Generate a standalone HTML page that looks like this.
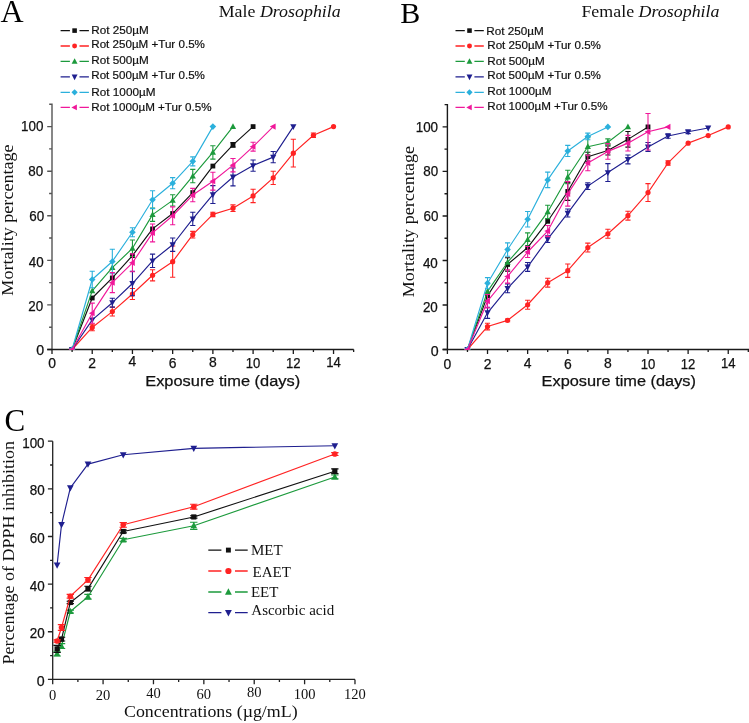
<!DOCTYPE html>
<html><head><meta charset="utf-8"><title>Figure</title>
<style>html,body{margin:0;padding:0;background:#fff;}svg{display:block;will-change:transform;}text{white-space:pre;}</style>
</head><body>
<svg width="749" height="723" viewBox="0 0 749 723">
<rect width="749" height="723" fill="#fff"/>
<path d="M52.00 349.5V104.31h-2.8M52.00 349.50h-4.8M52.00 327.21h-2.9M52.00 304.92h-4.8M52.00 282.63h-2.9M52.00 260.34h-4.8M52.00 238.05h-2.9M52.00 215.76h-4.8M52.00 193.47h-2.9M52.00 171.18h-4.8M52.00 148.89h-2.9M52.00 126.60h-4.8" fill="none" stroke="#555" stroke-width="1.4"/>
<path d="M47.20 349.5H353.70M52.00 349.5v4.4M72.11 349.5v2.6M92.22 349.5v4.4M112.33 349.5v2.6M132.44 349.5v4.4M152.55 349.5v2.6M172.66 349.5v4.4M192.77 349.5v2.6M212.88 349.5v4.4M232.99 349.5v2.6M253.10 349.5v4.4M273.21 349.5v2.6M293.32 349.5v4.4M313.43 349.5v2.6M333.54 349.5v4.4M353.65 349.5v2.6" fill="none" stroke="#1a1a1a" stroke-width="1.3"/>
<text x="44.20" y="355.45" font-family="'Liberation Sans', sans-serif" font-size="14.2" text-anchor="end" fill="#111" stroke="#111" stroke-width="0.25">0</text>
<text x="43.20" y="310.85" font-family="'Liberation Sans', sans-serif" font-size="14.2" text-anchor="end" fill="#111" textLength="14.9" lengthAdjust="spacingAndGlyphs" stroke="#111" stroke-width="0.25">20</text>
<text x="43.60" y="267.15" font-family="'Liberation Sans', sans-serif" font-size="14.2" text-anchor="end" fill="#111" textLength="14.9" lengthAdjust="spacingAndGlyphs" stroke="#111" stroke-width="0.25">40</text>
<text x="44.20" y="221.10" font-family="'Liberation Sans', sans-serif" font-size="14.2" text-anchor="end" fill="#111" textLength="14.9" lengthAdjust="spacingAndGlyphs" stroke="#111" stroke-width="0.25">60</text>
<text x="43.20" y="176.45" font-family="'Liberation Sans', sans-serif" font-size="14.2" text-anchor="end" fill="#111" textLength="14.9" lengthAdjust="spacingAndGlyphs" stroke="#111" stroke-width="0.25">80</text>
<text x="43.40" y="131.35" font-family="'Liberation Sans', sans-serif" font-size="14.2" text-anchor="end" fill="#111" textLength="22.4" lengthAdjust="spacingAndGlyphs" stroke="#111" stroke-width="0.25">100</text>
<text x="52.00" y="367.90" font-family="'Liberation Sans', sans-serif" font-size="13.9" text-anchor="middle" fill="#111" stroke="#111" stroke-width="0.25">0</text>
<text x="92.22" y="367.90" font-family="'Liberation Sans', sans-serif" font-size="13.9" text-anchor="middle" fill="#111" stroke="#111" stroke-width="0.25">2</text>
<text x="132.44" y="366.40" font-family="'Liberation Sans', sans-serif" font-size="13.9" text-anchor="middle" fill="#111" stroke="#111" stroke-width="0.25">4</text>
<text x="172.66" y="368.00" font-family="'Liberation Sans', sans-serif" font-size="13.9" text-anchor="middle" fill="#111" stroke="#111" stroke-width="0.25">6</text>
<text x="212.88" y="366.50" font-family="'Liberation Sans', sans-serif" font-size="13.9" text-anchor="middle" fill="#111" stroke="#111" stroke-width="0.25">8</text>
<text x="253.10" y="368.20" font-family="'Liberation Sans', sans-serif" font-size="13.9" text-anchor="middle" fill="#111" textLength="14.6" lengthAdjust="spacingAndGlyphs" stroke="#111" stroke-width="0.25">10</text>
<text x="293.32" y="368.20" font-family="'Liberation Sans', sans-serif" font-size="13.9" text-anchor="middle" fill="#111" textLength="14.6" lengthAdjust="spacingAndGlyphs" stroke="#111" stroke-width="0.25">12</text>
<text x="333.54" y="366.50" font-family="'Liberation Sans', sans-serif" font-size="13.9" text-anchor="middle" fill="#111" textLength="14.6" lengthAdjust="spacingAndGlyphs" stroke="#111" stroke-width="0.25">14</text>
<clipPath id="clipA"><rect x="52.00" y="90" width="306.70" height="259.90"/></clipPath>
<g clip-path="url(#clipA)">
<path d="M72.11 349.50L92.22 298.01L112.33 277.95L132.44 255.66L152.55 228.91L172.66 213.53L192.77 192.58L212.88 166.05L232.99 144.88L253.10 126.60" fill="none" stroke="#111111" stroke-width="1.15" stroke-linejoin="round"/>
<path d="M232.99 142.65V147.11M230.39 142.65H235.59M230.39 147.11H235.59" fill="none" stroke="#111111" stroke-width="1.1"/>
<rect x="69.71" y="347.10" width="4.80" height="4.80" fill="#111111"/>
<rect x="89.82" y="295.61" width="4.80" height="4.80" fill="#111111"/>
<rect x="109.93" y="275.55" width="4.80" height="4.80" fill="#111111"/>
<rect x="130.04" y="253.26" width="4.80" height="4.80" fill="#111111"/>
<rect x="150.15" y="226.51" width="4.80" height="4.80" fill="#111111"/>
<rect x="170.26" y="211.13" width="4.80" height="4.80" fill="#111111"/>
<rect x="190.37" y="190.18" width="4.80" height="4.80" fill="#111111"/>
<rect x="210.48" y="163.65" width="4.80" height="4.80" fill="#111111"/>
<rect x="230.59" y="142.48" width="4.80" height="4.80" fill="#111111"/>
<rect x="250.70" y="124.20" width="4.80" height="4.80" fill="#111111"/>
<path d="M72.11 349.50L92.22 327.43L112.33 311.61L132.44 294.00L152.55 275.27L172.66 261.68L192.77 234.71L212.88 214.42L232.99 208.18L253.10 195.92L273.21 177.87L293.32 153.13L313.43 135.29L333.54 126.60" fill="none" stroke="#ff2323" stroke-width="1.15" stroke-linejoin="round"/>
<path d="M92.22 324.09V330.78M89.62 324.09H94.82M89.62 330.78H94.82M112.33 307.15V316.06M109.73 307.15H114.93M109.73 316.06H114.93M132.44 288.43V299.57M129.84 288.43H135.04M129.84 299.57H135.04M152.55 269.70V280.85M149.95 269.70H155.15M149.95 280.85H155.15M172.66 246.07V277.28M170.06 246.07H175.26M170.06 277.28H175.26M192.77 231.36V238.05M190.17 231.36H195.37M190.17 238.05H195.37M212.88 212.19V216.65M210.28 212.19H215.48M210.28 216.65H215.48M232.99 204.84V211.52M230.39 204.84H235.59M230.39 211.52H235.59M253.10 189.23V202.61M250.50 189.23H255.70M250.50 202.61H255.70M273.21 171.18V184.55M270.61 171.18H275.81M270.61 184.55H275.81M293.32 139.31V166.94M290.72 139.31H295.92M290.72 166.94H295.92M313.43 133.06V137.52M310.83 133.06H316.03M310.83 137.52H316.03" fill="none" stroke="#ff2323" stroke-width="1.1"/>
<circle cx="72.11" cy="349.50" r="2.60" fill="#ff2323"/>
<circle cx="92.22" cy="327.43" r="2.60" fill="#ff2323"/>
<circle cx="112.33" cy="311.61" r="2.60" fill="#ff2323"/>
<circle cx="132.44" cy="294.00" r="2.60" fill="#ff2323"/>
<circle cx="152.55" cy="275.27" r="2.60" fill="#ff2323"/>
<circle cx="172.66" cy="261.68" r="2.60" fill="#ff2323"/>
<circle cx="192.77" cy="234.71" r="2.60" fill="#ff2323"/>
<circle cx="212.88" cy="214.42" r="2.60" fill="#ff2323"/>
<circle cx="232.99" cy="208.18" r="2.60" fill="#ff2323"/>
<circle cx="253.10" cy="195.92" r="2.60" fill="#ff2323"/>
<circle cx="273.21" cy="177.87" r="2.60" fill="#ff2323"/>
<circle cx="293.32" cy="153.13" r="2.60" fill="#ff2323"/>
<circle cx="313.43" cy="135.29" r="2.60" fill="#ff2323"/>
<circle cx="333.54" cy="126.60" r="2.60" fill="#ff2323"/>
<path d="M72.11 349.50L92.22 290.88L112.33 267.70L132.44 248.30L152.55 214.65L172.66 200.38L192.77 176.08L212.88 152.46L232.99 126.60" fill="none" stroke="#1c9a3c" stroke-width="1.15" stroke-linejoin="round"/>
<path d="M132.44 240.06V256.55M129.84 240.06H135.04M129.84 256.55H135.04M152.55 207.96V221.33M149.95 207.96H155.15M149.95 221.33H155.15M172.66 194.81V205.95M170.06 194.81H175.26M170.06 205.95H175.26M192.77 169.40V182.77M190.17 169.40H195.37M190.17 182.77H195.37M212.88 145.77V159.14M210.28 145.77H215.48M210.28 159.14H215.48" fill="none" stroke="#1c9a3c" stroke-width="1.1"/>
<path d="M69.01 351.90L75.21 351.90L72.11 346.10Z" fill="#1c9a3c"/>
<path d="M89.12 293.28L95.32 293.28L92.22 287.48Z" fill="#1c9a3c"/>
<path d="M109.23 270.10L115.43 270.10L112.33 264.30Z" fill="#1c9a3c"/>
<path d="M129.34 250.70L135.54 250.70L132.44 244.90Z" fill="#1c9a3c"/>
<path d="M149.45 217.05L155.65 217.05L152.55 211.25Z" fill="#1c9a3c"/>
<path d="M169.56 202.78L175.76 202.78L172.66 196.98Z" fill="#1c9a3c"/>
<path d="M189.67 178.48L195.87 178.48L192.77 172.68Z" fill="#1c9a3c"/>
<path d="M209.78 154.86L215.98 154.86L212.88 149.06Z" fill="#1c9a3c"/>
<path d="M229.89 129.00L236.09 129.00L232.99 123.20Z" fill="#1c9a3c"/>
<path d="M72.11 349.50L92.22 319.85L112.33 302.69L132.44 283.52L152.55 260.79L172.66 244.74L192.77 218.88L212.88 194.58L232.99 176.98L253.10 165.61L273.21 157.14L293.32 126.60" fill="none" stroke="#1f1f8f" stroke-width="1.15" stroke-linejoin="round"/>
<path d="M112.33 298.23V307.15M109.73 298.23H114.93M109.73 307.15H114.93M132.44 271.26V295.78M129.84 271.26H135.04M129.84 295.78H135.04M152.55 254.10V267.47M149.95 254.10H155.15M149.95 267.47H155.15M172.66 238.05V251.42M170.06 238.05H175.26M170.06 251.42H175.26M192.77 212.19V225.57M190.17 212.19H195.37M190.17 225.57H195.37M212.88 185.67V203.50M210.28 185.67H215.48M210.28 203.50H215.48M232.99 168.06V185.89M230.39 168.06H235.59M230.39 185.89H235.59M253.10 160.03V171.18M250.50 160.03H255.70M250.50 171.18H255.70M273.21 151.56V162.71M270.61 151.56H275.81M270.61 162.71H275.81" fill="none" stroke="#1f1f8f" stroke-width="1.1"/>
<path d="M69.01 347.10L75.21 347.10L72.11 352.90Z" fill="#1f1f8f"/>
<path d="M89.12 317.45L95.32 317.45L92.22 323.25Z" fill="#1f1f8f"/>
<path d="M109.23 300.29L115.43 300.29L112.33 306.09Z" fill="#1f1f8f"/>
<path d="M129.34 281.12L135.54 281.12L132.44 286.92Z" fill="#1f1f8f"/>
<path d="M149.45 258.39L155.65 258.39L152.55 264.19Z" fill="#1f1f8f"/>
<path d="M169.56 242.34L175.76 242.34L172.66 248.14Z" fill="#1f1f8f"/>
<path d="M189.67 216.48L195.87 216.48L192.77 222.28Z" fill="#1f1f8f"/>
<path d="M209.78 192.18L215.98 192.18L212.88 197.98Z" fill="#1f1f8f"/>
<path d="M229.89 174.58L236.09 174.58L232.99 180.38Z" fill="#1f1f8f"/>
<path d="M250.00 163.21L256.20 163.21L253.10 169.01Z" fill="#1f1f8f"/>
<path d="M270.11 154.74L276.31 154.74L273.21 160.54Z" fill="#1f1f8f"/>
<path d="M290.22 124.20L296.42 124.20L293.32 130.00Z" fill="#1f1f8f"/>
<path d="M72.11 349.50L92.22 279.51L112.33 261.45L132.44 232.25L152.55 199.71L172.66 183.22L192.77 161.37L212.88 126.60" fill="none" stroke="#2bb0dc" stroke-width="1.15" stroke-linejoin="round"/>
<path d="M92.22 271.26V287.76M89.62 271.26H94.82M89.62 287.76H94.82M112.33 249.19V273.71M109.73 249.19H114.93M109.73 273.71H114.93M132.44 227.80V236.71M129.84 227.80H135.04M129.84 236.71H135.04M152.55 190.80V208.63M149.95 190.80H155.15M149.95 208.63H155.15M172.66 177.64V188.79M170.06 177.64H175.26M170.06 188.79H175.26M192.77 156.91V165.83M190.17 156.91H195.37M190.17 165.83H195.37" fill="none" stroke="#2bb0dc" stroke-width="1.1"/>
<path d="M68.81 349.50L72.11 346.20L75.41 349.50L72.11 352.80Z" fill="#2bb0dc"/>
<path d="M88.92 279.51L92.22 276.21L95.52 279.51L92.22 282.81Z" fill="#2bb0dc"/>
<path d="M109.03 261.45L112.33 258.15L115.63 261.45L112.33 264.75Z" fill="#2bb0dc"/>
<path d="M129.14 232.25L132.44 228.95L135.74 232.25L132.44 235.55Z" fill="#2bb0dc"/>
<path d="M149.25 199.71L152.55 196.41L155.85 199.71L152.55 203.01Z" fill="#2bb0dc"/>
<path d="M169.36 183.22L172.66 179.92L175.96 183.22L172.66 186.52Z" fill="#2bb0dc"/>
<path d="M189.47 161.37L192.77 158.07L196.07 161.37L192.77 164.67Z" fill="#2bb0dc"/>
<path d="M209.58 126.60L212.88 123.30L216.18 126.60L212.88 129.90Z" fill="#2bb0dc"/>
<path d="M72.11 349.50L92.22 313.17L112.33 282.63L132.44 262.79L152.55 232.92L172.66 215.76L192.77 195.03L212.88 181.21L232.99 165.16L253.10 146.66L273.21 126.60" fill="none" stroke="#f0189a" stroke-width="1.15" stroke-linejoin="round"/>
<path d="M92.22 303.14V323.20M89.62 303.14H94.82M89.62 323.20H94.82M112.33 272.60V292.66M109.73 272.60H114.93M109.73 292.66H114.93M132.44 253.88V271.71M129.84 253.88H135.04M129.84 271.71H135.04M152.55 224.01V241.84M149.95 224.01H155.15M149.95 241.84H155.15M172.66 206.84V224.68M170.06 206.84H175.26M170.06 224.68H175.26M192.77 188.34V201.72M190.17 188.34H195.37M190.17 201.72H195.37M212.88 172.29V190.13M210.28 172.29H215.48M210.28 190.13H215.48M232.99 158.47V171.85M230.39 158.47H235.59M230.39 171.85H235.59M253.10 142.20V151.12M250.50 142.20H255.70M250.50 151.12H255.70" fill="none" stroke="#f0189a" stroke-width="1.1"/>
<path d="M74.51 346.40L74.51 352.60L68.71 349.50Z" fill="#f0189a"/>
<path d="M94.62 310.07L94.62 316.27L88.82 313.17Z" fill="#f0189a"/>
<path d="M114.73 279.53L114.73 285.73L108.93 282.63Z" fill="#f0189a"/>
<path d="M134.84 259.69L134.84 265.89L129.04 262.79Z" fill="#f0189a"/>
<path d="M154.95 229.82L154.95 236.02L149.15 232.92Z" fill="#f0189a"/>
<path d="M175.06 212.66L175.06 218.86L169.26 215.76Z" fill="#f0189a"/>
<path d="M195.17 191.93L195.17 198.13L189.37 195.03Z" fill="#f0189a"/>
<path d="M215.28 178.11L215.28 184.31L209.48 181.21Z" fill="#f0189a"/>
<path d="M235.39 162.06L235.39 168.26L229.59 165.16Z" fill="#f0189a"/>
<path d="M255.50 143.56L255.50 149.76L249.70 146.66Z" fill="#f0189a"/>
<path d="M275.61 123.50L275.61 129.70L269.81 126.60Z" fill="#f0189a"/>
</g>
<text x="0.60" y="21.50" font-family="'Liberation Serif', serif" font-size="32" text-anchor="start" fill="#000">A</text>
<text x="218.70" y="16.70" font-family="'Liberation Serif', serif" font-size="16.3" fill="#111" textLength="122.0" lengthAdjust="spacingAndGlyphs">Male <tspan font-style="italic">Drosophila</tspan></text>
<path d="M60.60 30.6h9.3M79.50 30.6h9.4" stroke="#111111" stroke-width="1.3" fill="none"/>
<rect x="72.32" y="28.32" width="4.56" height="4.56" fill="#111111"/>
<text x="91.30" y="33.60" font-family="'Liberation Sans', sans-serif" font-size="11.0" text-anchor="start" fill="#111" textLength="57.5" lengthAdjust="spacingAndGlyphs" stroke="#111" stroke-width="0.2">Rot 250µM</text>
<path d="M60.60 46.0h9.3M79.50 46.0h9.4" stroke="#ff2323" stroke-width="1.3" fill="none"/>
<circle cx="74.60" cy="46.00" r="2.47" fill="#ff2323"/>
<text x="91.30" y="47.70" font-family="'Liberation Sans', sans-serif" font-size="11.0" text-anchor="start" fill="#111" textLength="113.6" lengthAdjust="spacingAndGlyphs" stroke="#111" stroke-width="0.2">Rot 250µM +Tur 0.5%</text>
<path d="M60.60 61.4h9.3M79.50 61.4h9.4" stroke="#1c9a3c" stroke-width="1.3" fill="none"/>
<path d="M71.66 63.68L77.54 63.68L74.60 58.17Z" fill="#1c9a3c"/>
<text x="91.30" y="64.30" font-family="'Liberation Sans', sans-serif" font-size="11.0" text-anchor="start" fill="#111" textLength="57.5" lengthAdjust="spacingAndGlyphs" stroke="#111" stroke-width="0.2">Rot 500µM</text>
<path d="M60.60 76.9h9.3M79.50 76.9h9.4" stroke="#1f1f8f" stroke-width="1.3" fill="none"/>
<path d="M71.66 74.62L77.54 74.62L74.60 80.13Z" fill="#1f1f8f"/>
<text x="91.30" y="79.40" font-family="'Liberation Sans', sans-serif" font-size="11.0" text-anchor="start" fill="#111" textLength="113.6" lengthAdjust="spacingAndGlyphs" stroke="#111" stroke-width="0.2">Rot 500µM +Tur 0.5%</text>
<path d="M60.60 92.3h9.3M79.50 92.3h9.4" stroke="#2bb0dc" stroke-width="1.3" fill="none"/>
<path d="M71.46 92.30L74.60 89.16L77.73 92.30L74.60 95.44Z" fill="#2bb0dc"/>
<text x="91.30" y="96.30" font-family="'Liberation Sans', sans-serif" font-size="11.0" text-anchor="start" fill="#111" textLength="64.2" lengthAdjust="spacingAndGlyphs" stroke="#111" stroke-width="0.2">Rot 1000µM</text>
<path d="M60.60 107.4h9.3M79.50 107.4h9.4" stroke="#f0189a" stroke-width="1.3" fill="none"/>
<path d="M76.88 104.46L76.88 110.34L71.37 107.40Z" fill="#f0189a"/>
<text x="91.30" y="111.00" font-family="'Liberation Sans', sans-serif" font-size="11.0" text-anchor="start" fill="#111" textLength="120.3" lengthAdjust="spacingAndGlyphs" stroke="#111" stroke-width="0.2">Rot 1000µM +Tur 0.5%</text>
<text transform="translate(13.00 220.00) rotate(-90)" font-family="'Liberation Serif', serif" font-size="16.3" text-anchor="middle" fill="#111" textLength="151.3" lengthAdjust="spacingAndGlyphs">Mortality percentage</text>
<text x="145.20" y="385.60" font-family="'Liberation Sans', sans-serif" font-size="15.4" text-anchor="start" fill="#111" textLength="155.0" lengthAdjust="spacingAndGlyphs" stroke="#111" stroke-width="0.25">Exposure time (days)</text>
<path d="M447.40 349.5V104.64h-2.8M447.40 349.50h-4.8M447.40 327.24h-2.9M447.40 304.98h-4.8M447.40 282.72h-2.9M447.40 260.46h-4.8M447.40 238.20h-2.9M447.40 215.94h-4.8M447.40 193.68h-2.9M447.40 171.42h-4.8M447.40 149.16h-2.9M447.40 126.90h-4.8" fill="none" stroke="#1a1a1a" stroke-width="1.4"/>
<path d="M442.60 349.5H749.00M447.40 349.5v4.4M467.46 349.5v2.6M487.52 349.5v4.4M507.58 349.5v2.6M527.64 349.5v4.4M547.70 349.5v2.6M567.76 349.5v4.4M587.82 349.5v2.6M607.88 349.5v4.4M627.94 349.5v2.6M648.00 349.5v4.4M668.06 349.5v2.6M688.12 349.5v4.4M708.18 349.5v2.6M728.24 349.5v4.4M748.30 349.5v2.6" fill="none" stroke="#1a1a1a" stroke-width="1.3"/>
<text x="438.70" y="355.65" font-family="'Liberation Sans', sans-serif" font-size="14.2" text-anchor="end" fill="#111" stroke="#111" stroke-width="0.25">0</text>
<text x="437.80" y="311.65" font-family="'Liberation Sans', sans-serif" font-size="14.2" text-anchor="end" fill="#111" textLength="14.9" lengthAdjust="spacingAndGlyphs" stroke="#111" stroke-width="0.25">20</text>
<text x="437.80" y="267.65" font-family="'Liberation Sans', sans-serif" font-size="14.2" text-anchor="end" fill="#111" textLength="14.9" lengthAdjust="spacingAndGlyphs" stroke="#111" stroke-width="0.25">40</text>
<text x="438.40" y="221.35" font-family="'Liberation Sans', sans-serif" font-size="14.2" text-anchor="end" fill="#111" textLength="14.9" lengthAdjust="spacingAndGlyphs" stroke="#111" stroke-width="0.25">60</text>
<text x="438.10" y="176.45" font-family="'Liberation Sans', sans-serif" font-size="14.2" text-anchor="end" fill="#111" textLength="14.9" lengthAdjust="spacingAndGlyphs" stroke="#111" stroke-width="0.25">80</text>
<text x="438.10" y="131.95" font-family="'Liberation Sans', sans-serif" font-size="14.2" text-anchor="end" fill="#111" textLength="22.4" lengthAdjust="spacingAndGlyphs" stroke="#111" stroke-width="0.25">100</text>
<text x="447.40" y="369.10" font-family="'Liberation Sans', sans-serif" font-size="13.9" text-anchor="middle" fill="#111" stroke="#111" stroke-width="0.25">0</text>
<text x="487.52" y="369.10" font-family="'Liberation Sans', sans-serif" font-size="13.9" text-anchor="middle" fill="#111" stroke="#111" stroke-width="0.25">2</text>
<text x="527.64" y="367.60" font-family="'Liberation Sans', sans-serif" font-size="13.9" text-anchor="middle" fill="#111" stroke="#111" stroke-width="0.25">4</text>
<text x="567.76" y="369.20" font-family="'Liberation Sans', sans-serif" font-size="13.9" text-anchor="middle" fill="#111" stroke="#111" stroke-width="0.25">6</text>
<text x="607.88" y="367.70" font-family="'Liberation Sans', sans-serif" font-size="13.9" text-anchor="middle" fill="#111" stroke="#111" stroke-width="0.25">8</text>
<text x="648.00" y="369.40" font-family="'Liberation Sans', sans-serif" font-size="13.9" text-anchor="middle" fill="#111" textLength="14.6" lengthAdjust="spacingAndGlyphs" stroke="#111" stroke-width="0.25">10</text>
<text x="688.12" y="369.40" font-family="'Liberation Sans', sans-serif" font-size="13.9" text-anchor="middle" fill="#111" textLength="14.6" lengthAdjust="spacingAndGlyphs" stroke="#111" stroke-width="0.25">12</text>
<text x="728.24" y="367.70" font-family="'Liberation Sans', sans-serif" font-size="13.9" text-anchor="middle" fill="#111" textLength="14.6" lengthAdjust="spacingAndGlyphs" stroke="#111" stroke-width="0.25">14</text>
<clipPath id="clipB"><rect x="447.40" y="90" width="306.60" height="259.90"/></clipPath>
<g clip-path="url(#clipB)">
<path d="M467.46 349.50L487.52 295.85L507.58 264.47L527.64 247.55L547.70 221.28L567.76 191.45L587.82 156.73L607.88 150.50L627.94 139.37L648.00 126.90" fill="none" stroke="#111111" stroke-width="1.15" stroke-linejoin="round"/>
<path d="M507.58 257.79V271.14M504.98 257.79H510.18M504.98 271.14H510.18M567.76 182.55V200.36M565.16 182.55H570.36M565.16 200.36H570.36M587.82 152.28V161.18M585.22 152.28H590.42M585.22 161.18H590.42M607.88 146.04V154.95M605.28 146.04H610.48M605.28 154.95H610.48M627.94 131.57V147.16M625.34 131.57H630.54M625.34 147.16H630.54" fill="none" stroke="#111111" stroke-width="1.1"/>
<rect x="465.06" y="347.10" width="4.80" height="4.80" fill="#111111"/>
<rect x="485.12" y="293.45" width="4.80" height="4.80" fill="#111111"/>
<rect x="505.18" y="262.07" width="4.80" height="4.80" fill="#111111"/>
<rect x="525.24" y="245.15" width="4.80" height="4.80" fill="#111111"/>
<rect x="545.30" y="218.88" width="4.80" height="4.80" fill="#111111"/>
<rect x="565.36" y="189.05" width="4.80" height="4.80" fill="#111111"/>
<rect x="585.42" y="154.33" width="4.80" height="4.80" fill="#111111"/>
<rect x="605.48" y="148.10" width="4.80" height="4.80" fill="#111111"/>
<rect x="625.54" y="136.97" width="4.80" height="4.80" fill="#111111"/>
<rect x="645.60" y="124.50" width="4.80" height="4.80" fill="#111111"/>
<path d="M467.46 349.50L487.52 326.57L507.58 320.34L527.64 304.76L547.70 282.72L567.76 270.70L587.82 247.55L607.88 233.75L627.94 215.72L648.00 192.57L668.06 162.96L688.12 143.15L708.18 135.58L728.24 126.90" fill="none" stroke="#ff2323" stroke-width="1.15" stroke-linejoin="round"/>
<path d="M487.52 323.23V329.91M484.92 323.23H490.12M484.92 329.91H490.12M507.58 319.00V321.68M504.98 319.00H510.18M504.98 321.68H510.18M527.64 300.31V309.21M525.04 300.31H530.24M525.04 309.21H530.24M547.70 278.27V287.17M545.10 278.27H550.30M545.10 287.17H550.30M567.76 264.02V277.38M565.16 264.02H570.36M565.16 277.38H570.36M587.82 243.10V252.00M585.22 243.10H590.42M585.22 252.00H590.42M607.88 229.30V238.20M605.28 229.30H610.48M605.28 238.20H610.48M627.94 211.27V220.17M625.34 211.27H630.54M625.34 220.17H630.54M648.00 183.66V201.47M645.40 183.66H650.60M645.40 201.47H650.60M668.06 160.74V165.19M665.46 160.74H670.66M665.46 165.19H670.66" fill="none" stroke="#ff2323" stroke-width="1.1"/>
<circle cx="467.46" cy="349.50" r="2.60" fill="#ff2323"/>
<circle cx="487.52" cy="326.57" r="2.60" fill="#ff2323"/>
<circle cx="507.58" cy="320.34" r="2.60" fill="#ff2323"/>
<circle cx="527.64" cy="304.76" r="2.60" fill="#ff2323"/>
<circle cx="547.70" cy="282.72" r="2.60" fill="#ff2323"/>
<circle cx="567.76" cy="270.70" r="2.60" fill="#ff2323"/>
<circle cx="587.82" cy="247.55" r="2.60" fill="#ff2323"/>
<circle cx="607.88" cy="233.75" r="2.60" fill="#ff2323"/>
<circle cx="627.94" cy="215.72" r="2.60" fill="#ff2323"/>
<circle cx="648.00" cy="192.57" r="2.60" fill="#ff2323"/>
<circle cx="668.06" cy="162.96" r="2.60" fill="#ff2323"/>
<circle cx="688.12" cy="143.15" r="2.60" fill="#ff2323"/>
<circle cx="708.18" cy="135.58" r="2.60" fill="#ff2323"/>
<circle cx="728.24" cy="126.90" r="2.60" fill="#ff2323"/>
<path d="M467.46 349.50L487.52 291.40L507.58 262.24L527.64 239.54L547.70 211.93L567.76 176.99L587.82 146.71L607.88 142.26L627.94 126.90" fill="none" stroke="#1c9a3c" stroke-width="1.15" stroke-linejoin="round"/>
<path d="M527.64 232.86V246.21M525.04 232.86H530.24M525.04 246.21H530.24M547.70 205.26V218.61M545.10 205.26H550.30M545.10 218.61H550.30M567.76 170.31V183.66M565.16 170.31H570.36M565.16 183.66H570.36M587.82 137.81V155.62M585.22 137.81H590.42M585.22 155.62H590.42M607.88 138.92V145.60M605.28 138.92H610.48M605.28 145.60H610.48" fill="none" stroke="#1c9a3c" stroke-width="1.1"/>
<path d="M464.36 351.90L470.56 351.90L467.46 346.10Z" fill="#1c9a3c"/>
<path d="M484.42 293.80L490.62 293.80L487.52 288.00Z" fill="#1c9a3c"/>
<path d="M504.48 264.64L510.68 264.64L507.58 258.84Z" fill="#1c9a3c"/>
<path d="M524.54 241.94L530.74 241.94L527.64 236.14Z" fill="#1c9a3c"/>
<path d="M544.60 214.33L550.80 214.33L547.70 208.53Z" fill="#1c9a3c"/>
<path d="M564.66 179.39L570.86 179.39L567.76 173.59Z" fill="#1c9a3c"/>
<path d="M584.72 149.11L590.92 149.11L587.82 143.31Z" fill="#1c9a3c"/>
<path d="M604.78 144.66L610.98 144.66L607.88 138.86Z" fill="#1c9a3c"/>
<path d="M624.84 129.30L631.04 129.30L627.94 123.50Z" fill="#1c9a3c"/>
<path d="M467.46 349.50L487.52 312.77L507.58 288.29L527.64 266.92L547.70 239.09L567.76 213.05L587.82 186.11L607.88 172.53L627.94 159.40L648.00 146.93L668.06 136.03L688.12 131.80L708.18 128.01" fill="none" stroke="#1f1f8f" stroke-width="1.15" stroke-linejoin="round"/>
<path d="M487.52 307.21V318.34M484.92 307.21H490.12M484.92 318.34H490.12M507.58 283.83V292.74M504.98 283.83H510.18M504.98 292.74H510.18M527.64 262.46V271.37M525.04 262.46H530.24M525.04 271.37H530.24M547.70 235.75V242.43M545.10 235.75H550.30M545.10 242.43H550.30M567.76 209.04V217.05M565.16 209.04H570.36M565.16 217.05H570.36M587.82 182.77V189.45M585.22 182.77H590.42M585.22 189.45H590.42M607.88 163.63V181.44M605.28 163.63H610.48M605.28 181.44H610.48M627.94 154.95V163.85M625.34 154.95H630.54M625.34 163.85H630.54M648.00 142.48V151.39M645.40 142.48H650.60M645.40 151.39H650.60M668.06 133.80V138.25M665.46 133.80H670.66M665.46 138.25H670.66M688.12 130.02V133.58M685.52 130.02H690.72M685.52 133.58H690.72" fill="none" stroke="#1f1f8f" stroke-width="1.1"/>
<path d="M464.36 347.10L470.56 347.10L467.46 352.90Z" fill="#1f1f8f"/>
<path d="M484.42 310.37L490.62 310.37L487.52 316.17Z" fill="#1f1f8f"/>
<path d="M504.48 285.89L510.68 285.89L507.58 291.69Z" fill="#1f1f8f"/>
<path d="M524.54 264.52L530.74 264.52L527.64 270.32Z" fill="#1f1f8f"/>
<path d="M544.60 236.69L550.80 236.69L547.70 242.49Z" fill="#1f1f8f"/>
<path d="M564.66 210.65L570.86 210.65L567.76 216.45Z" fill="#1f1f8f"/>
<path d="M584.72 183.71L590.92 183.71L587.82 189.51Z" fill="#1f1f8f"/>
<path d="M604.78 170.13L610.98 170.13L607.88 175.93Z" fill="#1f1f8f"/>
<path d="M624.84 157.00L631.04 157.00L627.94 162.80Z" fill="#1f1f8f"/>
<path d="M644.90 144.53L651.10 144.53L648.00 150.33Z" fill="#1f1f8f"/>
<path d="M664.96 133.63L671.16 133.63L668.06 139.43Z" fill="#1f1f8f"/>
<path d="M685.02 129.40L691.22 129.40L688.12 135.20Z" fill="#1f1f8f"/>
<path d="M705.08 125.61L711.28 125.61L708.18 131.41Z" fill="#1f1f8f"/>
<path d="M467.46 349.50L487.52 283.17L507.58 249.55L527.64 219.28L547.70 179.88L567.76 150.94L587.82 136.47L607.88 126.90" fill="none" stroke="#2bb0dc" stroke-width="1.15" stroke-linejoin="round"/>
<path d="M487.52 277.60V288.73M484.92 277.60H490.12M484.92 288.73H490.12M507.58 242.87V256.23M504.98 242.87H510.18M504.98 256.23H510.18M527.64 211.49V227.07M525.04 211.49H530.24M525.04 227.07H530.24M547.70 172.09V187.67M545.10 172.09H550.30M545.10 187.67H550.30M567.76 145.38V156.51M565.16 145.38H570.36M565.16 156.51H570.36M587.82 133.13V139.81M585.22 133.13H590.42M585.22 139.81H590.42" fill="none" stroke="#2bb0dc" stroke-width="1.1"/>
<path d="M464.16 349.50L467.46 346.20L470.76 349.50L467.46 352.80Z" fill="#2bb0dc"/>
<path d="M484.22 283.17L487.52 279.87L490.82 283.17L487.52 286.47Z" fill="#2bb0dc"/>
<path d="M504.28 249.55L507.58 246.25L510.88 249.55L507.58 252.85Z" fill="#2bb0dc"/>
<path d="M524.34 219.28L527.64 215.98L530.94 219.28L527.64 222.58Z" fill="#2bb0dc"/>
<path d="M544.40 179.88L547.70 176.58L551.00 179.88L547.70 183.18Z" fill="#2bb0dc"/>
<path d="M564.46 150.94L567.76 147.64L571.06 150.94L567.76 154.24Z" fill="#2bb0dc"/>
<path d="M584.52 136.47L587.82 133.17L591.12 136.47L587.82 139.77Z" fill="#2bb0dc"/>
<path d="M604.58 126.90L607.88 123.60L611.18 126.90L607.88 130.20Z" fill="#2bb0dc"/>
<path d="M467.46 349.50L487.52 301.20L507.58 276.49L527.64 252.00L547.70 231.08L567.76 193.90L587.82 162.96L607.88 151.39L627.94 143.15L648.00 131.80L668.06 126.90" fill="none" stroke="#f0189a" stroke-width="1.15" stroke-linejoin="round"/>
<path d="M487.52 294.52V307.87M484.92 294.52H490.12M484.92 307.87H490.12M507.58 269.81V283.17M504.98 269.81H510.18M504.98 283.17H510.18M527.64 246.44V257.57M525.04 246.44H530.24M525.04 257.57H530.24M547.70 225.51V236.64M545.10 225.51H550.30M545.10 236.64H550.30M567.76 181.66V206.15M565.16 181.66H570.36M565.16 206.15H570.36M587.82 155.17V170.75M585.22 155.17H590.42M585.22 170.75H590.42M607.88 143.59V159.18M605.28 143.59H610.48M605.28 159.18H610.48M627.94 135.36V150.94M625.34 135.36H630.54M625.34 150.94H630.54M648.00 113.54V150.05M645.40 113.54H650.60M645.40 150.05H650.60" fill="none" stroke="#f0189a" stroke-width="1.1"/>
<path d="M469.86 346.40L469.86 352.60L464.06 349.50Z" fill="#f0189a"/>
<path d="M489.92 298.10L489.92 304.30L484.12 301.20Z" fill="#f0189a"/>
<path d="M509.98 273.39L509.98 279.59L504.18 276.49Z" fill="#f0189a"/>
<path d="M530.04 248.90L530.04 255.10L524.24 252.00Z" fill="#f0189a"/>
<path d="M550.10 227.98L550.10 234.18L544.30 231.08Z" fill="#f0189a"/>
<path d="M570.16 190.80L570.16 197.00L564.36 193.90Z" fill="#f0189a"/>
<path d="M590.22 159.86L590.22 166.06L584.42 162.96Z" fill="#f0189a"/>
<path d="M610.28 148.29L610.28 154.49L604.48 151.39Z" fill="#f0189a"/>
<path d="M630.34 140.05L630.34 146.25L624.54 143.15Z" fill="#f0189a"/>
<path d="M650.40 128.70L650.40 134.90L644.60 131.80Z" fill="#f0189a"/>
<path d="M670.46 123.80L670.46 130.00L664.66 126.90Z" fill="#f0189a"/>
</g>
<text x="400.30" y="22.50" font-family="'Liberation Serif', serif" font-size="30" text-anchor="start" fill="#000">B</text>
<text x="581.40" y="17.00" font-family="'Liberation Serif', serif" font-size="16.3" fill="#111" textLength="138.1" lengthAdjust="spacingAndGlyphs">Female <tspan font-style="italic">Drosophila</tspan></text>
<path d="M455.50 30.6h9.3M474.40 30.6h9.4" stroke="#111111" stroke-width="1.3" fill="none"/>
<rect x="467.22" y="28.32" width="4.56" height="4.56" fill="#111111"/>
<text x="486.30" y="35.00" font-family="'Liberation Sans', sans-serif" font-size="11.0" text-anchor="start" fill="#111" textLength="57.5" lengthAdjust="spacingAndGlyphs" stroke="#111" stroke-width="0.2">Rot 250µM</text>
<path d="M455.50 46.0h9.3M474.40 46.0h9.4" stroke="#ff2323" stroke-width="1.3" fill="none"/>
<circle cx="469.50" cy="46.00" r="2.47" fill="#ff2323"/>
<text x="487.30" y="49.30" font-family="'Liberation Sans', sans-serif" font-size="11.0" text-anchor="start" fill="#111" textLength="113.6" lengthAdjust="spacingAndGlyphs" stroke="#111" stroke-width="0.2">Rot 250µM +Tur 0.5%</text>
<path d="M455.50 61.4h9.3M474.40 61.4h9.4" stroke="#1c9a3c" stroke-width="1.3" fill="none"/>
<path d="M466.56 63.68L472.44 63.68L469.50 58.17Z" fill="#1c9a3c"/>
<text x="487.30" y="65.40" font-family="'Liberation Sans', sans-serif" font-size="11.0" text-anchor="start" fill="#111" textLength="57.5" lengthAdjust="spacingAndGlyphs" stroke="#111" stroke-width="0.2">Rot 500µM</text>
<path d="M455.50 76.9h9.3M474.40 76.9h9.4" stroke="#1f1f8f" stroke-width="1.3" fill="none"/>
<path d="M466.56 74.62L472.44 74.62L469.50 80.13Z" fill="#1f1f8f"/>
<text x="487.30" y="79.40" font-family="'Liberation Sans', sans-serif" font-size="11.0" text-anchor="start" fill="#111" textLength="113.6" lengthAdjust="spacingAndGlyphs" stroke="#111" stroke-width="0.2">Rot 500µM +Tur 0.5%</text>
<path d="M455.50 92.3h9.3M474.40 92.3h9.4" stroke="#2bb0dc" stroke-width="1.3" fill="none"/>
<path d="M466.37 92.30L469.50 89.16L472.63 92.30L469.50 95.44Z" fill="#2bb0dc"/>
<text x="487.30" y="94.80" font-family="'Liberation Sans', sans-serif" font-size="11.0" text-anchor="start" fill="#111" textLength="64.2" lengthAdjust="spacingAndGlyphs" stroke="#111" stroke-width="0.2">Rot 1000µM</text>
<path d="M455.50 107.4h9.3M474.40 107.4h9.4" stroke="#f0189a" stroke-width="1.3" fill="none"/>
<path d="M471.78 104.46L471.78 110.34L466.27 107.40Z" fill="#f0189a"/>
<text x="487.30" y="109.70" font-family="'Liberation Sans', sans-serif" font-size="11.0" text-anchor="start" fill="#111" textLength="120.3" lengthAdjust="spacingAndGlyphs" stroke="#111" stroke-width="0.2">Rot 1000µM +Tur 0.5%</text>
<text transform="translate(413.60 221.60) rotate(-90)" font-family="'Liberation Serif', serif" font-size="16.3" text-anchor="middle" fill="#111" textLength="151.3" lengthAdjust="spacingAndGlyphs">Mortality percentage</text>
<text x="541.60" y="386.00" font-family="'Liberation Sans', sans-serif" font-size="15.4" text-anchor="start" fill="#111" textLength="154.4" lengthAdjust="spacingAndGlyphs" stroke="#111" stroke-width="0.25">Exposure time (days)</text>
<path d="M52.7 441.20V679.4H354.98M52.7 679.40h-4.8M52.7 655.58h-2.6M52.7 631.76h-4.8M52.7 607.94h-2.6M52.7 584.12h-4.8M52.7 560.30h-2.6M52.7 536.48h-4.8M52.7 512.66h-2.6M52.7 488.84h-4.8M52.7 465.02h-2.6M52.7 441.20h-4.8M52.70 679.4v4.8M77.89 679.4v2.6M103.08 679.4v4.8M128.27 679.4v2.6M153.46 679.4v4.8M178.65 679.4v2.6M203.84 679.4v4.8M229.03 679.4v2.6M254.22 679.4v4.8M279.41 679.4v2.6M304.60 679.4v4.8M329.79 679.4v2.6M354.98 679.4v4.8" fill="none" stroke="#222" stroke-width="1.3"/>
<text x="44.60" y="685.90" font-family="'Liberation Sans', sans-serif" font-size="14.2" text-anchor="end" fill="#111" stroke="#111" stroke-width="0.25">0</text>
<text x="44.60" y="638.26" font-family="'Liberation Sans', sans-serif" font-size="14.2" text-anchor="end" fill="#111" textLength="14.9" lengthAdjust="spacingAndGlyphs" stroke="#111" stroke-width="0.25">20</text>
<text x="44.60" y="590.62" font-family="'Liberation Sans', sans-serif" font-size="14.2" text-anchor="end" fill="#111" textLength="14.9" lengthAdjust="spacingAndGlyphs" stroke="#111" stroke-width="0.25">40</text>
<text x="44.60" y="542.98" font-family="'Liberation Sans', sans-serif" font-size="14.2" text-anchor="end" fill="#111" textLength="14.9" lengthAdjust="spacingAndGlyphs" stroke="#111" stroke-width="0.25">60</text>
<text x="44.60" y="495.34" font-family="'Liberation Sans', sans-serif" font-size="14.2" text-anchor="end" fill="#111" textLength="14.9" lengthAdjust="spacingAndGlyphs" stroke="#111" stroke-width="0.25">80</text>
<text x="44.60" y="447.70" font-family="'Liberation Sans', sans-serif" font-size="14.2" text-anchor="end" fill="#111" textLength="22.4" lengthAdjust="spacingAndGlyphs" stroke="#111" stroke-width="0.25">100</text>
<text x="52.70" y="700.10" font-family="'Liberation Serif', serif" font-size="14.5" text-anchor="middle" fill="#111">0</text>
<text x="103.08" y="700.10" font-family="'Liberation Serif', serif" font-size="14.5" text-anchor="middle" fill="#111">20</text>
<text x="153.46" y="698.40" font-family="'Liberation Serif', serif" font-size="14.5" text-anchor="middle" fill="#111">40</text>
<text x="203.84" y="699.20" font-family="'Liberation Serif', serif" font-size="14.5" text-anchor="middle" fill="#111">60</text>
<text x="254.22" y="697.30" font-family="'Liberation Serif', serif" font-size="14.5" text-anchor="middle" fill="#111">80</text>
<text x="304.60" y="699.20" font-family="'Liberation Serif', serif" font-size="14.5" text-anchor="middle" fill="#111">100</text>
<text x="354.98" y="699.20" font-family="'Liberation Serif', serif" font-size="14.5" text-anchor="middle" fill="#111">120</text>
<path d="M57.11 565.06L61.52 524.57L70.33 487.89L87.97 464.07L123.23 454.78L193.76 448.35L334.83 445.73" fill="none" stroke="#1f1f8f" stroke-width="1.15" stroke-linejoin="round"/>
<path d="M53.76 562.47L60.46 562.47L57.11 568.74Z" fill="#1f1f8f"/>
<path d="M58.17 521.98L64.86 521.98L61.52 528.24Z" fill="#1f1f8f"/>
<path d="M66.98 485.30L73.68 485.30L70.33 491.56Z" fill="#1f1f8f"/>
<path d="M84.62 461.48L91.31 461.48L87.97 467.74Z" fill="#1f1f8f"/>
<path d="M119.88 452.19L126.58 452.19L123.23 458.45Z" fill="#1f1f8f"/>
<path d="M190.42 445.75L197.11 445.75L193.76 452.02Z" fill="#1f1f8f"/>
<path d="M331.48 443.13L338.18 443.13L334.83 449.40Z" fill="#1f1f8f"/>
<path d="M57.11 653.67L61.52 646.05L70.33 611.51L87.97 596.74L123.23 539.81L193.76 525.76L334.83 476.93" fill="none" stroke="#1c9a3c" stroke-width="1.15" stroke-linejoin="round"/>
<path d="M57.11 651.29V656.06M53.41 651.29H60.81M53.41 656.06H60.81M61.52 643.67V648.43M57.82 643.67H65.22M57.82 648.43H65.22M70.33 610.08V612.94M66.63 610.08H74.03M66.63 612.94H74.03M87.97 594.36V599.13M84.27 594.36H91.67M84.27 599.13H91.67M123.23 538.39V541.24M119.53 538.39H126.93M119.53 541.24H126.93M193.76 522.19V529.33M190.06 522.19H197.46M190.06 529.33H197.46M334.83 475.02V478.84M331.13 475.02H338.53M331.13 478.84H338.53" fill="none" stroke="#1c9a3c" stroke-width="1.1"/>
<path d="M53.76 656.27L60.46 656.27L57.11 650.00Z" fill="#1c9a3c"/>
<path d="M58.17 648.64L64.86 648.64L61.52 642.38Z" fill="#1c9a3c"/>
<path d="M66.98 614.10L73.68 614.10L70.33 607.84Z" fill="#1c9a3c"/>
<path d="M84.62 599.34L91.31 599.34L87.97 593.07Z" fill="#1c9a3c"/>
<path d="M119.88 542.41L126.58 542.41L123.23 536.14Z" fill="#1c9a3c"/>
<path d="M190.42 528.35L197.11 528.35L193.76 522.09Z" fill="#1c9a3c"/>
<path d="M331.48 479.52L338.18 479.52L334.83 473.26Z" fill="#1c9a3c"/>
<path d="M57.11 648.91L61.52 639.14L70.33 602.46L87.97 588.65L123.23 531.48L193.76 516.95L334.83 471.21" fill="none" stroke="#111111" stroke-width="1.15" stroke-linejoin="round"/>
<path d="M57.11 645.34V652.48M53.41 645.34H60.81M53.41 652.48H60.81M61.52 637.24V641.05M57.82 637.24H65.22M57.82 641.05H65.22M70.33 601.27V603.65M66.63 601.27H74.03M66.63 603.65H74.03M87.97 586.26V591.03M84.27 586.26H91.67M84.27 591.03H91.67M123.23 530.05V532.91M119.53 530.05H126.93M119.53 532.91H126.93M193.76 515.76V518.14M190.06 515.76H197.46M190.06 518.14H197.46M334.83 468.83V473.60M331.13 468.83H338.53M331.13 473.60H338.53" fill="none" stroke="#111111" stroke-width="1.1"/>
<rect x="54.52" y="646.32" width="5.18" height="5.18" fill="#111111"/>
<rect x="58.92" y="636.55" width="5.18" height="5.18" fill="#111111"/>
<rect x="67.74" y="599.87" width="5.18" height="5.18" fill="#111111"/>
<rect x="85.37" y="586.05" width="5.18" height="5.18" fill="#111111"/>
<rect x="120.64" y="528.89" width="5.18" height="5.18" fill="#111111"/>
<rect x="191.17" y="514.36" width="5.18" height="5.18" fill="#111111"/>
<rect x="332.24" y="468.62" width="5.18" height="5.18" fill="#111111"/>
<path d="M57.11 641.05L61.52 627.47L70.33 596.27L87.97 579.83L123.23 524.81L193.76 506.70L334.83 454.06" fill="none" stroke="#ff2323" stroke-width="1.15" stroke-linejoin="round"/>
<path d="M57.11 639.86V642.24M53.41 639.86H60.81M53.41 642.24H60.81M61.52 624.61V630.33M57.82 624.61H65.22M57.82 630.33H65.22M70.33 594.36V598.17M66.63 594.36H74.03M66.63 598.17H74.03M87.97 577.45V582.21M84.27 577.45H91.67M84.27 582.21H91.67M123.23 522.43V527.19M119.53 522.43H126.93M119.53 527.19H126.93M193.76 504.32V509.09M190.06 504.32H197.46M190.06 509.09H197.46M334.83 452.63V455.49M331.13 452.63H338.53M331.13 455.49H338.53" fill="none" stroke="#ff2323" stroke-width="1.1"/>
<circle cx="57.11" cy="641.05" r="2.81" fill="#ff2323"/>
<circle cx="61.52" cy="627.47" r="2.81" fill="#ff2323"/>
<circle cx="70.33" cy="596.27" r="2.81" fill="#ff2323"/>
<circle cx="87.97" cy="579.83" r="2.81" fill="#ff2323"/>
<circle cx="123.23" cy="524.81" r="2.81" fill="#ff2323"/>
<circle cx="193.76" cy="506.70" r="2.81" fill="#ff2323"/>
<circle cx="334.83" cy="454.06" r="2.81" fill="#ff2323"/>
<text x="4.60" y="431.40" font-family="'Liberation Serif', serif" font-size="31" text-anchor="start" fill="#000">C</text>
<path d="M208.3 550.1h13.1M235 550.1h12.7" stroke="#111111" stroke-width="1.3" fill="none"/>
<rect x="225.95" y="547.65" width="4.90" height="4.90" fill="#111111"/>
<text x="250.90" y="555.30" font-family="'Liberation Serif', serif" font-size="15.0" text-anchor="start" fill="#111">MET</text>
<path d="M208.3 571.0h13.1M235 571.0h12.7" stroke="#ff2323" stroke-width="1.3" fill="none"/>
<circle cx="228.40" cy="571.00" r="3.12" fill="#ff2323"/>
<text x="252.60" y="576.80" font-family="'Liberation Serif', serif" font-size="15.0" text-anchor="start" fill="#111">EAET</text>
<path d="M208.3 592.0h13.1M235 592.0h12.7" stroke="#1c9a3c" stroke-width="1.3" fill="none"/>
<path d="M224.99 594.64L231.81 594.64L228.40 588.26Z" fill="#1c9a3c"/>
<text x="250.90" y="597.30" font-family="'Liberation Serif', serif" font-size="15.0" text-anchor="start" fill="#111">EET</text>
<path d="M208.3 612.7h13.1M235 612.7h12.7" stroke="#1f1f8f" stroke-width="1.3" fill="none"/>
<path d="M224.99 610.06L231.81 610.06L228.40 616.44Z" fill="#1f1f8f"/>
<text x="251.30" y="615.40" font-family="'Liberation Serif', serif" font-size="15.0" text-anchor="start" fill="#111">Ascorbic acid</text>
<text transform="translate(13.60 552.80) rotate(-90)" font-family="'Liberation Serif', serif" font-size="17.7" text-anchor="middle" fill="#111" textLength="223.5" lengthAdjust="spacingAndGlyphs">Percentage of DPPH inhibition</text>
<text x="124.00" y="717.00" font-family="'Liberation Serif', serif" font-size="16.3" text-anchor="start" fill="#111" textLength="173.6" lengthAdjust="spacingAndGlyphs">Concentrations (µg/mL)</text>
</svg>
</body></html>
